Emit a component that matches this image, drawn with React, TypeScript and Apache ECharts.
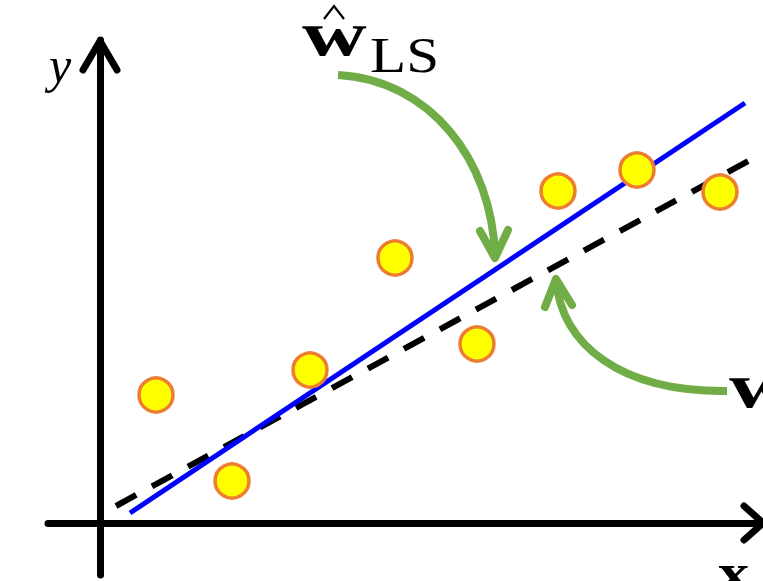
import React, { useEffect, useRef } from "react";
import * as echarts from "echarts";

// Observations (x, y) in data units
const pointX = [0.56, 1.32, 2.10, 2.95, 3.77, 4.58, 5.37, 6.20];
const pointY = [1.28, 0.42, 1.53, 2.65, 1.79, 3.32, 3.53, 3.31];
// Least-squares fit line (endpoints)
const lsLineX = [0.30, 6.45];
const lsLineY = [0.10, 4.20];
// True line (endpoints)
const trueLineX = [0.16, 6.63];
const trueLineY = [0.17, 3.70];
// Axis arrow heads (chevrons)
const yArrowX = [-0.17, 0, 0.17];
const yArrowY = [4.53, 4.82, 4.53];
const xArrowX = [6.44, 6.63, 6.44];
const xArrowY = [0.17, 0, -0.17];

const zip = (xs: number[], ys: number[]) => xs.map((x, i) => [x, ys[i]]);

const GREEN = "#70AD47";
const SERIF = '"Liberation Serif", "DejaVu Serif", serif';

export default function App() {
  const ref = useRef<HTMLDivElement>(null);
  useEffect(() => {
    if (!ref.current) return;
    const chart = echarts.init(ref.current, undefined, { renderer: "svg" });
    const hidden = { show: false };
    chart.setOption({
      animation: false,
      backgroundColor: "#ffffff",
      grid: { left: 48, right: 0, top: 40, bottom: 6 },
      xAxis: {
        type: "value",
        min: -0.52,
        max: 6.63,
        axisLine: { onZero: true, lineStyle: { color: "#000", width: 7 } },
        axisTick: hidden,
        axisLabel: hidden,
        splitLine: hidden,
      },
      yAxis: {
        type: "value",
        min: -0.52,
        max: 4.83,
        axisLine: { onZero: true, lineStyle: { color: "#000", width: 7 } },
        axisTick: hidden,
        axisLabel: hidden,
        splitLine: hidden,
      },
      series: [
        {
          type: "line",
          data: zip(yArrowX, yArrowY),
          symbol: "none",
          lineStyle: { color: "#000", width: 7, cap: "round", join: "round" },
          z: 3,
        },
        {
          type: "line",
          data: zip(xArrowX, xArrowY),
          symbol: "none",
          lineStyle: { color: "#000", width: 7, cap: "round", join: "round" },
          z: 3,
        },
        {
          type: "line",
          data: zip(trueLineX, trueLineY),
          symbol: "none",
          lineStyle: { color: "#000", width: 6, type: [23, 18] },
          z: 4,
        },
        {
          type: "line",
          data: zip(lsLineX, lsLineY),
          symbol: "none",
          lineStyle: { color: "#0000FF", width: 5 },
          z: 5,
        },
        {
          type: "scatter",
          data: zip(pointX, pointY),
          symbol: "circle",
          symbolSize: 34,
          itemStyle: { color: "#FFFF00", borderColor: "#ED7D31", borderWidth: 3.5, opacity: 1 },
          z: 6,
        },
      ],
      graphic: [
        // green arrow to LS line
        {
          type: "bezierCurve",
          shape: { x1: 338, y1: 75, cpx1: 430, cpy1: 80, cpx2: 492, cpy2: 160, x2: 495, y2: 256 },
          style: { stroke: GREEN, lineWidth: 8, fill: "none", lineCap: "butt" },
          z: 10,
        },
        {
          type: "polyline",
          shape: { points: [[480, 231], [495, 258], [508, 230]] },
          style: { stroke: GREEN, lineWidth: 8, fill: "none", lineCap: "round", lineJoin: "round" },
          z: 10,
        },
        // green arrow to true line
        {
          type: "bezierCurve",
          shape: { x1: 727, y1: 391, cpx1: 620, cpy1: 392, cpx2: 562, cpy2: 345, x2: 556, y2: 280 },
          style: { stroke: GREEN, lineWidth: 8, fill: "none", lineCap: "butt" },
          z: 10,
        },
        {
          type: "polyline",
          shape: { points: [[545, 307], [556, 279], [572, 305]] },
          style: { stroke: GREEN, lineWidth: 8, fill: "none", lineCap: "round", lineJoin: "round" },
          z: 10,
        },
        // labels
        {
          type: "text",
          x: 302,
          y: 66,
          scaleX: 1.4,
          style: { text: "w", font: `bold 64px ${SERIF}`, fill: "#000", verticalAlign: "bottom" },
          z: 11,
        },
        {
          type: "polyline",
          shape: { points: [[324, 19], [334, 6], [344, 19]] },
          style: { stroke: "#000", lineWidth: 2.2, fill: "none", lineJoin: "miter" },
          z: 11,
        },
        {
          type: "text",
          x: 370,
          y: 80,
          scaleX: 1.16,
          style: { text: "LS", font: `51px ${SERIF}`, fill: "#000", verticalAlign: "bottom" },
          z: 11,
        },
        {
          type: "text",
          x: 49,
          y: 90,
          style: { text: "y", font: `italic 50px ${SERIF}`, fill: "#000", verticalAlign: "bottom" },
          z: 11,
        },
        {
          type: "text",
          x: 729,
          y: 418,
          scaleX: 1.4,
          style: { text: "w", font: `bold 64px ${SERIF}`, fill: "#000", verticalAlign: "bottom" },
          z: 11,
        },
        {
          type: "text",
          x: 718,
          y: 598,
          scaleX: 1.2,
          style: { text: "x", font: `bold 52px ${SERIF}`, fill: "#000", verticalAlign: "bottom" },
          z: 11,
        },
      ],
    });
    return () => chart.dispose();
  }, []);
  return (
    <div
      ref={ref}
      style={{ position: "fixed", left: 0, top: 0, width: 763, height: 581, background: "#fff" }}
    />
  );
}
